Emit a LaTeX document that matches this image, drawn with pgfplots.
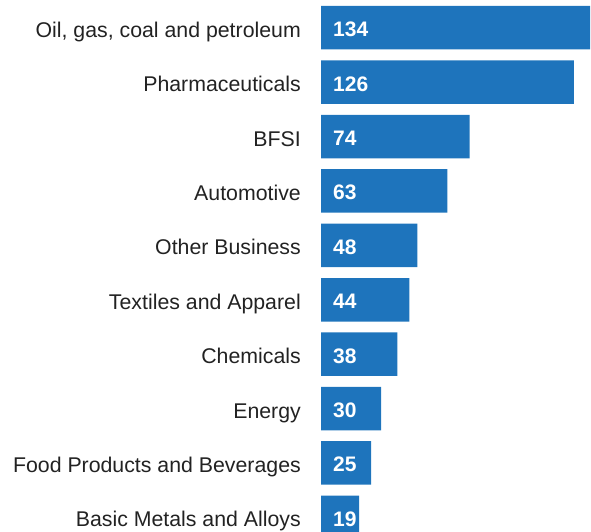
\documentclass[border=0pt]{standalone}
\usepackage{pgfplots}
\pgfplotsset{compat=1.18}
\usepackage{pgfplotstable}
\usepackage{fontspec}
\setmainfont{Liberation Sans}
\definecolor{barblue}{RGB}{30,116,188}
\definecolor{labelgray}{RGB}{34,34,34}
\pgfplotstableread[col sep=semicolon]{
idx;value;label
0;134;Oil, gas, coal and petroleum
1;126;Pharmaceuticals
2;74;BFSI
3;63;Automotive
4;48;Other Business
5;44;Textiles and Apparel
6;38;Chemicals
7;30;Energy
8;25;Food Products and Beverages
9;19;Basic Metals and Alloys
}\datatable
\begin{document}
\begin{tikzpicture}[x=1pt,y=1pt]
\useasboundingbox (0,0) rectangle (591,531);
\clip (0,0) rectangle (591,531);
\begin{axis}[
  at={(321pt,-13.55pt)}, anchor=south west,
  scale only axis, width=269pt, height=544pt,
  xmin=0, xmax=134, ymin=-0.5, ymax=9.5,
  y dir=reverse,
  xbar, bar width=43.5pt,
  hide x axis,
  axis y line*=left, y axis line style={draw=none},
  major tick length=0pt,
  ytick={0,...,9},
  yticklabels from table={\datatable}{label},
  yticklabel style={anchor=base east, inner sep=0pt, xshift=-20pt, yshift=-9.6pt,
    font=\fontsize{21.3}{25}\selectfont, text=labelgray},
  clip=false,
]
\addplot[fill=barblue, draw=none] table[x=value, y=idx] {\datatable};
\addplot[draw=none, mark=none, xbar=0pt, forget plot, bar width=0pt,
  nodes near coords, point meta=explicit symbolic,
  nodes near coords style={anchor=base west, inner sep=0pt, xshift=12pt, yshift=-11pt,
    text=white, font=\bfseries\fontsize{21}{25}\selectfont}]
  table[x expr=0, y=idx, meta=value] {\datatable};
\end{axis}
\end{tikzpicture}
\end{document}
